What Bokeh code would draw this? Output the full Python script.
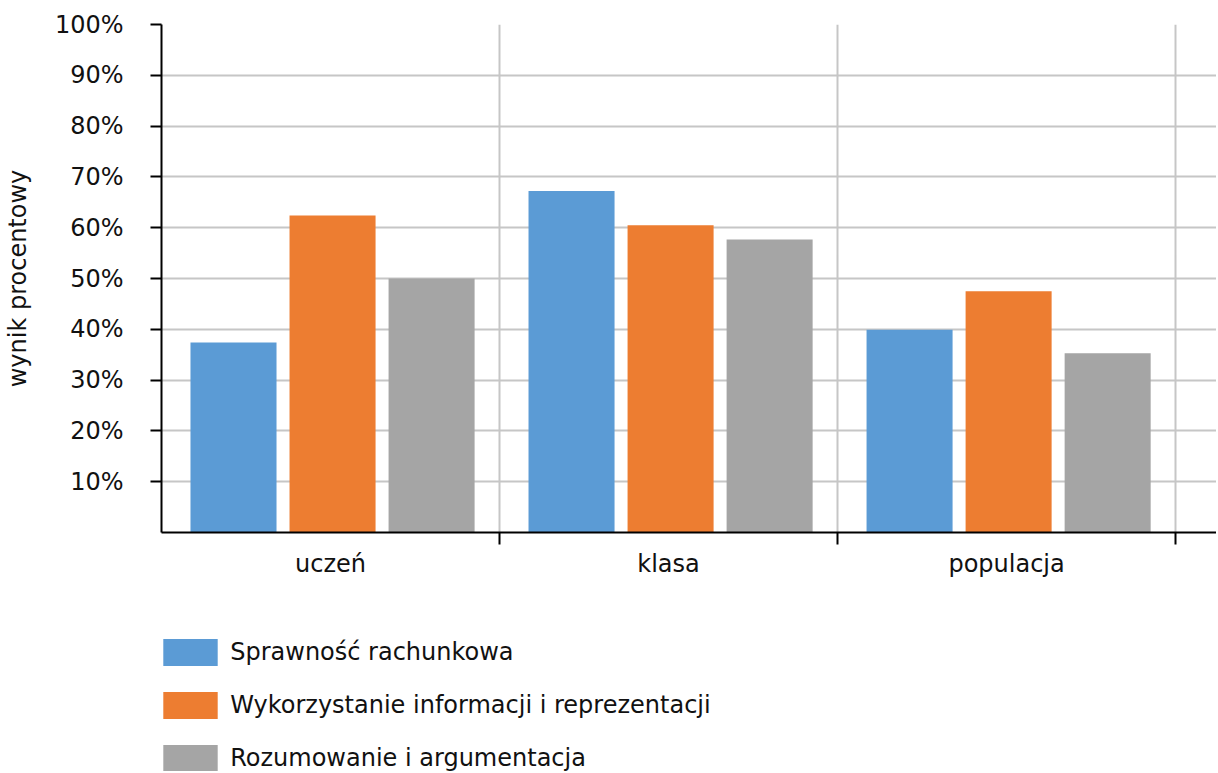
from bokeh.plotting import figure
from bokeh.layouts import column
from bokeh.models import Range1d, FixedTicker, Legend, LegendItem
from bokeh.embed import file_html
from bokeh.resources import INLINE

categories = ["uczeń", "klasa", "populacja"]
series_names = ["Sprawność rachunkowa",
                "Wykorzystanie informacji i reprezentacji",
                "Rozumowanie i argumentacja"]
sprawnosc = [37.4, 67.2, 39.9]
wykorzystanie = [62.4, 60.5, 47.5]
rozumowanie = [50.0, 57.7, 35.3]
y_ticks = [10, 20, 30, 40, 50, 60, 70, 80, 90, 100]
y_tick_labels = ["10%", "20%", "30%", "40%", "50%", "60%", "70%", "80%", "90%", "100%"]
colors = ["#5B9BD5", "#ED7D31", "#A5A5A5"]

FONT = "DejaVu Sans"
FS = "24px"
TXT = "#111111"

W = 1216
H_MAIN = 584
H_LEG = 187
X_END = 3.121

p = figure(width=W, height=H_MAIN, output_backend="svg", toolbar_location=None,
           x_range=Range1d(0, X_END), y_range=Range1d(0, 100),
           min_border_left=161, min_border_right=0, min_border_top=24,
           min_border_bottom=52)
p.outline_line_color = None
p.background_fill_color = "white"
p.border_fill_color = "white"

series = [sprawnosc, wykorzystanie, rozumowanie]
offsets = [-0.287, 0.006, 0.299]
for vals, off, col in zip(series, offsets, colors):
    xs = [i + 0.5 + off for i in range(len(categories))]
    p.vbar(x=xs, top=vals, bottom=0, width=0.2545, fill_color=col, line_color=None)

# x axis: labels at category centres, ticks at category boundaries (minor ticks)
xa = p.xaxis[0]
centres = [i + 0.5 for i in range(len(categories))]
bounds = [i + 1 for i in range(len(categories))]
xa.ticker = FixedTicker(ticks=centres, minor_ticks=bounds)
xa.major_label_overrides = {c: lab for c, lab in zip(centres, categories)}
xa.major_tick_out = 0
xa.major_tick_in = 0
xa.minor_tick_out = 12
xa.minor_tick_in = 0
xa.minor_tick_line_color = "black"
xa.minor_tick_line_width = 2
xa.axis_line_color = "black"
xa.axis_line_width = 2
xa.major_label_text_font = FONT
xa.major_label_text_font_size = FS
xa.major_label_text_color = TXT
xa.major_label_standoff = 5

ya = p.yaxis[0]
ya.ticker = FixedTicker(ticks=y_ticks, minor_ticks=[])
ya.major_label_overrides = {t: lab for t, lab in zip(y_ticks, y_tick_labels)}
ya.major_tick_out = 11
ya.major_tick_in = 0
ya.major_tick_line_width = 2
ya.axis_line_width = 2
ya.axis_line_color = "black"
ya.major_label_text_font = FONT
ya.major_label_text_font_size = FS
ya.major_label_text_color = TXT
ya.major_label_standoff = 27
ya.axis_label = "wynik procentowy"
ya.axis_label_text_font = FONT
ya.axis_label_text_font_size = FS
ya.axis_label_text_font_style = "normal"
ya.axis_label_text_color = TXT
ya.axis_label_standoff = 20

p.xgrid.ticker = FixedTicker(ticks=bounds, minor_ticks=[])
p.xgrid.grid_line_color = "#c6c6c6"
p.xgrid.grid_line_width = 2
p.ygrid.ticker = FixedTicker(ticks=y_ticks, minor_ticks=[])
p.ygrid.grid_line_color = "#c6c6c6"
p.ygrid.grid_line_width = 2

# legend panel below the chart (same series, drawn outside its visible range)
pl = figure(width=W, height=H_LEG, output_backend="svg", toolbar_location=None,
            x_range=Range1d(0, X_END), y_range=Range1d(101, 102),
            x_axis_location=None, y_axis_location=None,
            min_border_left=0, min_border_right=0, min_border_top=0, min_border_bottom=0)
pl.outline_line_color = None
pl.grid.visible = False
leg_renderers = []
for vals, off, col in zip(series, offsets, colors):
    xs = [i + 0.5 + off for i in range(len(categories))]
    leg_renderers.append(pl.vbar(x=xs, top=vals, bottom=0, width=0.2545,
                                 fill_color=col, line_color=None))

legend = Legend(items=[LegendItem(label=n, renderers=[r]) for n, r in zip(series_names, leg_renderers)],
                location=(-4.8, -3.6), orientation="vertical",
                glyph_width=68, glyph_height=34, label_height=34,
                spacing=19, padding=0, margin=0, label_standoff=6,
                border_line_color=None, background_fill_alpha=0,
                label_text_font=FONT, label_text_font_size=FS, label_text_color=TXT)
pl.add_layout(legend, "center")

layout = column(p, pl, spacing=0)
open("out.html", "w").write(file_html(layout, INLINE))
